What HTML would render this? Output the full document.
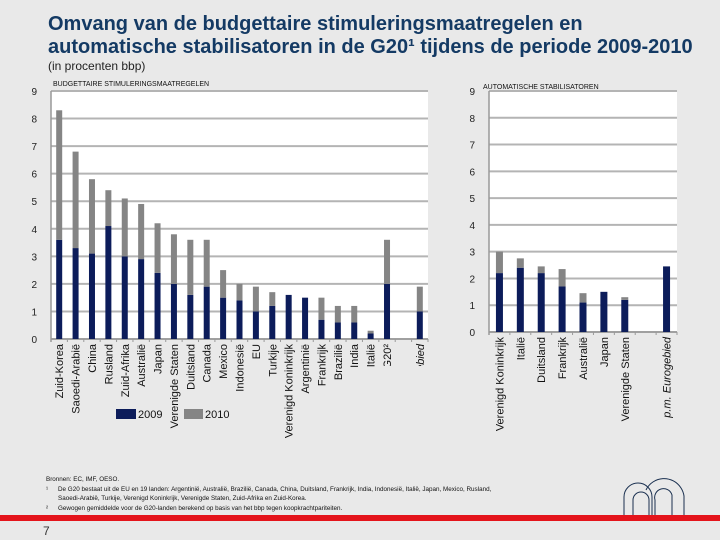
<!DOCTYPE html>
<html><head><meta charset="utf-8"><style>
body{margin:0;background:#e9e9e9;}
svg{display:block;font-family:"Liberation Sans",sans-serif;}
</style></head><body>
<svg id="s" width="720" height="540" viewBox="0 0 720 540">
<rect x="0" y="0" width="720" height="540" fill="#e9e9e9"/>
<text x="48" y="30" font-size="20" font-weight="bold" fill="#143a64">Omvang van de budgettaire stimuleringsmaatregelen en</text>
<text x="48" y="53" font-size="20" font-weight="bold" fill="#143a64">automatische stabilisatoren in de G20¹ tijdens de periode 2009-2010</text>
<text x="48" y="70" font-size="12" fill="#222">(in procenten bbp)</text>
<text x="53" y="86" font-size="7" fill="#111">BUDGETTAIRE STIMULERINGSMAATREGELEN</text>
<text x="483" y="89" font-size="7" fill="#111">AUTOMATISCHE STABILISATOREN</text>
<g id="left"></g>
<g id="right"></g>
<g>
<rect x="116" y="409" width="20" height="10" fill="#0c1c5a"/>
<text x="138" y="418" font-size="11" fill="#111">2009</text>
<rect x="184" y="409" width="19" height="10" fill="#858585"/>
<text x="205" y="418" font-size="11" fill="#111">2010</text>
</g>
<g font-size="6.3" fill="#111">
<text x="46" y="481">Bronnen: EC, IMF, OESO.</text>
<text x="46" y="491">¹</text><text x="58" y="491">De G20 bestaat uit de EU en 19 landen: Argentinië, Australië, Brazilië, Canada, China, Duitsland, Frankrijk, India, Indonesië, Italië, Japan, Mexico, Rusland,</text>
<text x="58" y="500">Saoedi-Arabië, Turkije, Verenigd Koninkrijk, Verenigde Staten, Zuid-Afrika en Zuid-Korea.</text>
<text x="46" y="510">²</text><text x="58" y="510">Gewogen gemiddelde voor de G20-landen berekend op basis van het bbp tegen koopkrachtpariteiten.</text>
</g>
<g fill="none" stroke="#1a3050" stroke-width="1">
<path d="M624 517 V497 a14 14 0 0 1 28 0 V517"/>
<path d="M633 517 V500 a8 8 0 0 1 16 0 V517"/>
<path d="M646 490 a20 20 0 0 1 35 -2 a20 20 0 0 1 3 8 V517"/>
<path d="M655 517 V500 a8 8 0 0 1 17 -5 V517"/>
</g>
<rect x="0" y="515" width="720" height="6" fill="#e4141b"/>
<text x="43" y="535" font-size="12" fill="#333">7</text>
</svg>
<script>
const NS="http://www.w3.org/2000/svg";
const leftCats=["Zuid-Korea","Saoedi-Arabië","China","Rusland","Zuid-Afrika","Australië","Japan","Verenigde Staten","Duitsland","Canada","Mexico","Indonesië","EU","Turkije","Verenigd Koninkrijk","Argentinië","Frankrijk","Brazilië","India","Italië","G20²","","p.m. Eurogebied"];
const left2009=[3.6,3.3,3.1,4.1,3.0,2.9,2.4,2.0,1.6,1.9,1.5,1.4,1.0,1.2,1.6,1.5,0.7,0.6,0.6,0.2,2.0,null,1.0];
const left2010=[4.7,3.5,2.7,1.3,2.1,2.0,1.8,1.8,2.0,1.7,1.0,0.6,0.9,0.5,0,0,0.8,0.6,0.6,0.1,1.6,null,0.9];
const rightCats=["Verenigd Koninkrijk","Italië","Duitsland","Frankrijk","Australië","Japan","Verenigde Staten","","p.m. Eurogebied"];
const right2009=[2.2,2.4,2.2,1.7,1.1,1.5,1.2,null,2.45];
const right2010=[0.8,0.35,0.25,0.65,0.35,0,0.1,null,0];
const yTicks=[0,1,2,3,4,5,6,7,8,9];

function el(tag,attrs,parent){const e=document.createElementNS(NS,tag);for(const k in attrs)e.setAttribute(k,attrs[k]);parent.appendChild(e);return e;}

function chart(g,cfg){
  const {x0,x1,yTop,yBot,cats,a,b,barW,clipLabels,idx}=cfg;
  const y=v=>yBot-(v/9)*(yBot-yTop);
  const step=(x1-x0)/cats.length;
  const xc=i=>x0+step*(i+0.5);
  const bg=el('rect',{x:x0,y:yTop,width:x1-x0,height:yBot-yTop,fill:'#ffffff'},g);
  
  
  yTicks.forEach(t=>{
    const l=el('line',{x1:x0,x2:x1,y1:y(t),y2:y(t),stroke:'#b4b4b4','stroke-width':2},g);
    
    
    const tx=el('text',{x:x0-14,y:y(t)+4,'font-size':10,fill:'#222','text-anchor':'end'},g);
    tx.textContent=t;
    
    
  });
  const ax=el('line',{x1:x0,x2:x0,y1:yTop,y2:yBot+3,stroke:'#999','stroke-width':1.5},g);
  
  
  const bx=el('line',{x1:x0,x2:x1,y1:yBot,y2:yBot,stroke:'#999','stroke-width':1.5},g);
  
  
  cats.forEach((c,i)=>{
    const tk=el('line',{x1:x0+step*(i+1),x2:x0+step*(i+1),y1:yBot,y2:yBot+3,stroke:'#999'},g);
    
    
    if(a[i]!=null){
      const r1=el('rect',{x:xc(i)-barW/2,y:y(a[i]),width:barW,height:yBot-y(a[i]),fill:'#0c1c5a'},g);
      
      
      if(b[i]>0){
        const r2=el('rect',{x:xc(i)-barW/2,y:y(a[i]+b[i]),width:barW,height:y(a[i])-y(a[i]+b[i]),fill:'#858585'},g);
        
        
      }
    }
    if(c){
      const tx=el('text',{x:0,y:0,'font-size':11,fill:'#111','text-anchor':'end',transform:`translate(${xc(i)+4},${yBot+5}) rotate(-90)`},g);
      if(c.startsWith('p.m.')) tx.setAttribute('font-style','italic');
      if(clipLabels && clipLabels.includes(i)) tx.setAttribute('clip-path','url(#clip'+idx+')');
      tx.textContent=c;
      
      
    }
  });
}
const svg=document.getElementById('s');
const defs=el('defs',{},svg);
const cp=el('clipPath',{id:'clipL',clipPathUnits:'userSpaceOnUse'},defs);
el('rect',{x:-22,y:-200,width:250,height:400},cp);
chart(document.getElementById('left'),{x0:51,x1:428,yTop:91,yBot:339,cats:leftCats,a:left2009,b:left2010,barW:6,clipLabels:[20,22],idx:'L'});
chart(document.getElementById('right'),{x0:489,x1:677,yTop:91,yBot:332,cats:rightCats,a:right2009,b:right2010,barW:7});
</script>
</body></html>
